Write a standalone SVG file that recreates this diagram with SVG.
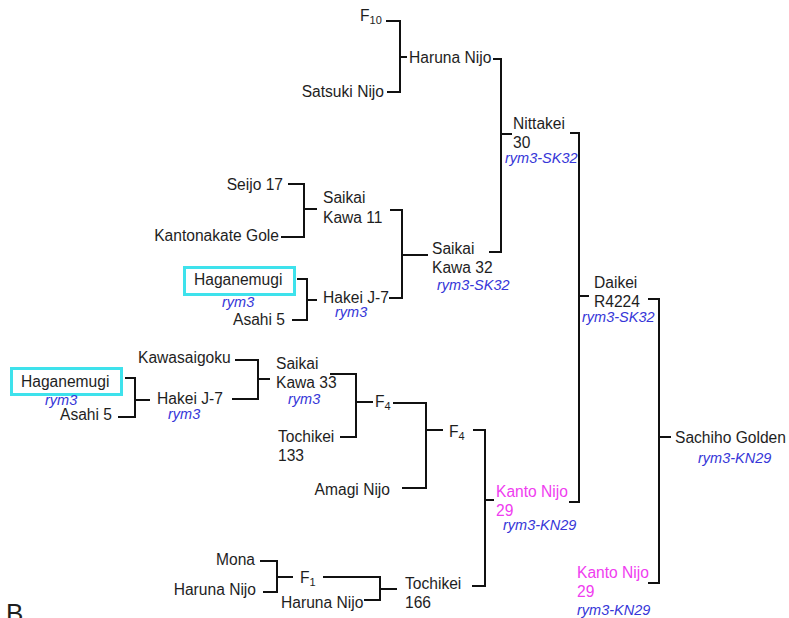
<svg xmlns="http://www.w3.org/2000/svg" width="789" height="618" viewBox="0 0 789 618">
<style>
text{font-family:"Liberation Sans",Arial,sans-serif;font-size:15.6px;fill:#1e1e1e}
.e{text-anchor:end}
.g{font-style:italic;font-size:14.5px;fill:#3636d8}
.p{fill:#f03cf0}
.s{font-size:11px}
.box{fill:none;stroke:#3ee2ec;stroke-width:3}
#connectors path{fill:none;stroke:#111;stroke-width:2}
</style>
<rect width="789" height="618" fill="#fff"/>
<g id="connectors">
<path d="M386,21 H400 V92 H387 M400,57 H407"/>
<path d="M493,59 H501 V252 H489 M501,134 H512"/>
<path d="M288,184 H304 V237 H281 M304,209 H317"/>
<path d="M390,210 H402 V298 H389 M402,255 H428"/>
<path d="M297,279 H307 V320 H292 M307,300 H317"/>
<path d="M125,378 H135 V417 H118 M135,400 H150"/>
<path d="M235,360 H258 V399 H232 M258,379 H270"/>
<path d="M330,374 H356 V437 H340 M356,402 H373"/>
<path d="M393,403 H426 V488 H402 M426,430 H443"/>
<path d="M473,430 H485 V586 H472 M485,500 H494"/>
<path d="M570,133 H579 V502 H569 M579,296 H589"/>
<path d="M648,299 H659 V583 H648 M659,437 H671"/>
<path d="M260,561 H277 V592 H263 M277,577 H293"/>
<path d="M323,577 H380 V600 H364 M380,589 H397"/>
</g>
<g id="n-f10"><text x="360" y="21">F<tspan class="s" dy="3">10</tspan></text></g>
<g id="n-satsuki"><text class="e" x="384" y="97">Satsuki Nijo</text></g>
<g id="n-haruna-top"><text x="409" y="63">Haruna Nijo</text></g>
<g id="n-nittakei"><text x="513" y="129">Nittakei</text><text x="513" y="148">30</text><text class="g" x="505" y="163">rym3-SK32</text></g>
<g id="n-seijo"><text class="e" x="283" y="190">Seijo 17</text></g>
<g id="n-kantonakate"><text class="e" x="279" y="241">Kantonakate Gole</text></g>
<g id="n-saikai11"><text x="323" y="203">Saikai</text><text x="323" y="223">Kawa 11</text></g>
<g id="n-saikai32"><text x="432" y="254">Saikai</text><text x="432" y="273">Kawa 32</text><text class="g" x="437" y="290">rym3-SK32</text></g>
<g id="n-haganemugi1"><rect class="box" x="184.5" y="267.5" width="110" height="27"/><text x="194" y="285">Haganemugi</text><text class="g" x="222" y="307">rym3</text></g>
<g id="n-asahi1"><text class="e" x="285" y="325">Asahi 5</text></g>
<g id="n-hakei1"><text x="323" y="303">Hakei J-7</text><text class="g" x="335" y="317">rym3</text></g>
<g id="n-haganemugi2"><rect class="box" x="11.5" y="368.5" width="110" height="26"/><text x="21" y="387">Haganemugi</text><text class="g" x="45" y="405">rym3</text></g>
<g id="n-asahi2"><text x="60" y="420">Asahi 5</text></g>
<g id="n-hakei2"><text x="157" y="404">Hakei J-7</text><text class="g" x="168" y="419">rym3</text></g>
<g id="n-kawasaigoku"><text x="138" y="363">Kawasaigoku</text></g>
<g id="n-saikai33"><text x="276" y="369">Saikai</text><text x="276" y="388">Kawa 33</text><text class="g" x="288" y="404">rym3</text></g>
<g id="n-tochikei133"><text x="278" y="442">Tochikei</text><text x="278" y="461">133</text></g>
<g id="n-f4a"><text x="375" y="407">F<tspan class="s" dy="3">4</tspan></text></g>
<g id="n-amagi"><text class="e" x="390" y="495">Amagi Nijo</text></g>
<g id="n-f4b"><text x="449" y="437">F<tspan class="s" dy="3">4</tspan></text></g>
<g id="n-kanto1"><text class="p" x="496" y="497">Kanto Nijo</text><text class="p" x="496" y="516">29</text><text class="g" x="503" y="530">rym3-KN29</text></g>
<g id="n-daikei"><text x="594" y="288">Daikei</text><text x="594" y="307">R4224</text><text class="g" x="582" y="322">rym3-SK32</text></g>
<g id="n-sachiho"><text x="675" y="443">Sachiho Golden</text><text class="g" x="698" y="463">rym3-KN29</text></g>
<g id="n-kanto2"><text class="p" x="577" y="578">Kanto Nijo</text><text class="p" x="577" y="597">29</text><text class="g" x="577" y="615">rym3-KN29</text></g>
<g id="n-mona"><text class="e" x="255" y="565">Mona</text></g>
<g id="n-haruna-left"><text class="e" x="256" y="595">Haruna Nijo</text></g>
<g id="n-f1"><text x="300" y="583">F<tspan class="s" dy="3">1</tspan></text></g>
<g id="n-haruna-low"><text x="281" y="608">Haruna Nijo</text></g>
<g id="n-tochikei166"><text x="405" y="589">Tochikei</text><text x="405" y="608">166</text></g>
<text x="6" y="622" style="font-size:26px">B</text>
</svg>
